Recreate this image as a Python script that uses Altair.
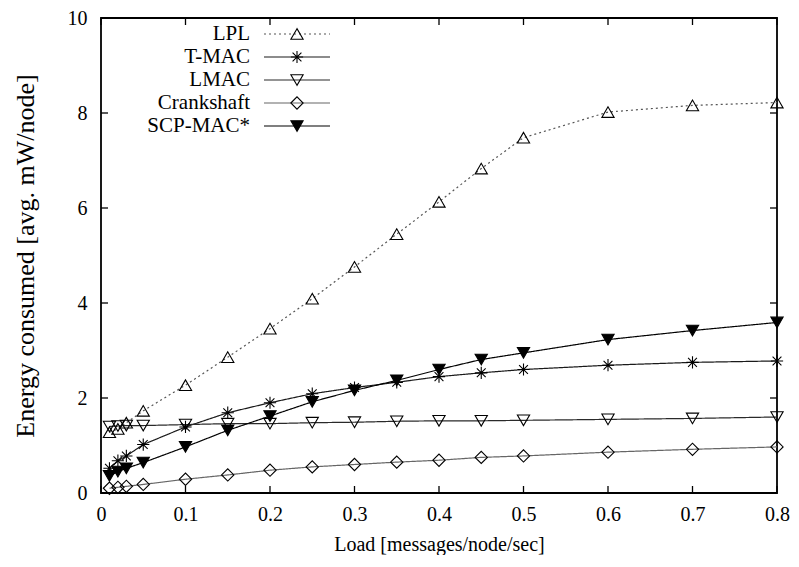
import altair as alt
import pandas as pd

loads = [0.01, 0.02, 0.03, 0.05, 0.1, 0.15, 0.2, 0.25, 0.3, 0.35, 0.4, 0.45, 0.5, 0.6, 0.7, 0.8]
series_names = ["LPL", "T-MAC", "LMAC", "Crankshaft", "SCP-MAC*"]
lpl = [1.28, 1.35, 1.48, 1.73, 2.27, 2.86, 3.46, 4.09, 4.76, 5.45, 6.13, 6.83, 7.48, 8.02, 8.16, 8.22]
tmac = [0.52, 0.68, 0.78, 1.02, 1.39, 1.69, 1.90, 2.09, 2.22, 2.33, 2.45, 2.53, 2.60, 2.69, 2.75, 2.78]
lmac = [1.40, 1.41, 1.42, 1.42, 1.44, 1.46, 1.46, 1.48, 1.49, 1.51, 1.52, 1.52, 1.53, 1.55, 1.57, 1.60]
crank = [0.10, 0.12, 0.14, 0.18, 0.29, 0.38, 0.48, 0.55, 0.60, 0.65, 0.69, 0.75, 0.78, 0.86, 0.92, 0.97]
scp = [0.36, 0.45, 0.52, 0.64, 0.97, 1.32, 1.62, 1.92, 2.16, 2.37, 2.60, 2.81, 2.95, 3.23, 3.42, 3.59]
x_ticks = [0, 0.1, 0.2, 0.3, 0.4, 0.5, 0.6, 0.7, 0.8]
y_ticks = [0, 2, 4, 6, 8, 10]

FONT = "Liberation Serif"
W, H = 676, 475

rows = []
for name, vals in zip(series_names, [lpl, tmac, lmac, crank, scp]):
    for xv, yv in zip(loads, vals):
        rows.append({"series": name, "load": xv, "energy": yv})
df = pd.DataFrame(rows)

ASTER = "M-1,0L1,0M0,-1L0,1M-0.72,-0.72L0.72,0.72M-0.72,0.72L0.72,-0.72"
col_scale = alt.Scale(domain=series_names, range=["#555555", "#1a1a1a", "#2a2a2a", "#666666", "#000000"])
dash_scale = alt.Scale(domain=series_names, range=[[2, 3], [1, 0], [1, 0], [1, 0], [1, 0]])
sw_scale = alt.Scale(domain=series_names, range=[1.2, 1.2, 1.2, 1.2, 2.0])
shape_scale = alt.Scale(domain=series_names, range=["triangle-up", ASTER, "triangle-down", "diamond", "triangle-down"])
fill_scale = alt.Scale(domain=series_names, range=["rgba(0,0,0,0)", "rgba(0,0,0,0)", "rgba(0,0,0,0)", "rgba(0,0,0,0)", "#000000"])
size_scale = alt.Scale(domain=series_names, range=[150, 150, 150, 130, 150])

xs = alt.Scale(domain=[0, 0.8], nice=False, zero=False)
ys = alt.Scale(domain=[0, 10], nice=False)

base = alt.Chart(df)
lines = base.mark_line().encode(
    x=alt.X("load:Q", scale=xs, axis=alt.Axis(
        values=x_ticks, format=".1~f", title="Load [messages/node/sec]",
        ticks=False, tickSize=0, domain=False, grid=False,
        labelFont=FONT, labelFontSize=20, labelColor="black", labelPadding=27,
        labelBaseline="alphabetic", labelFlush=False,
        titleFont=FONT, titleFontSize=20, titleFontWeight="normal", titleColor="black",
        titleBaseline="alphabetic", titleY=57)),
    y=alt.Y("energy:Q", scale=ys, axis=alt.Axis(
        values=y_ticks, format="d", title="Energy consumed [avg. mW/node]",
        ticks=False, tickSize=0, domain=False, grid=False,
        labelFont=FONT, labelFontSize=20, labelColor="black", labelPadding=14,
        labelFlush=False,
        titleFont=FONT, titleFontSize=26, titleFontWeight="normal", titleColor="black",
        titleBaseline="alphabetic", titleX=-68)),
    color=alt.Color("series:N", scale=col_scale, legend=None),
    strokeDash=alt.StrokeDash("series:N", scale=dash_scale, legend=None),
    strokeWidth=alt.StrokeWidth("series:N", scale=sw_scale, legend=None),
    detail="series:N",
)
points = base.mark_point(filled=True, stroke="black", strokeWidth=1.1, opacity=1).encode(
    x=alt.X("load:Q", scale=xs),
    y=alt.Y("energy:Q", scale=ys),
    shape=alt.Shape("series:N", scale=shape_scale, legend=None),
    fill=alt.Fill("series:N", scale=fill_scale, legend=None),
    size=alt.Size("series:N", scale=size_scale, legend=None),
)

# inward ticks on all four sides
xt = pd.DataFrame({"t": x_ticks})
yt = pd.DataFrame({"t": y_ticks})
TL = 7
tick_style = dict(color="black", strokeWidth=1.3)
bt = alt.Chart(xt).mark_rule(**tick_style).encode(x=alt.X("t:Q", scale=xs), y=alt.value(H), y2=alt.value(H - TL))
tt = alt.Chart(xt).mark_rule(**tick_style).encode(x=alt.X("t:Q", scale=xs), y=alt.value(0), y2=alt.value(TL))
lt = alt.Chart(yt).mark_rule(**tick_style).encode(y=alt.Y("t:Q", scale=ys), x=alt.value(0), x2=alt.value(TL))
rt = alt.Chart(yt).mark_rule(**tick_style).encode(y=alt.Y("t:Q", scale=ys), x=alt.value(W - TL), x2=alt.value(W))

# custom gnuplot-style key (label, line sample, marker)
leg = pd.DataFrame({"series": series_names, "ly": [16 + 23 * i for i in range(len(series_names))]})
lb = alt.Chart(leg)
leg_text = lb.mark_text(align="right", baseline="middle", font=FONT, fontSize=21, color="black").encode(
    x=alt.value(149), y=alt.Y("ly:Q", scale=None), text="series:N")
leg_line = lb.mark_rule().encode(
    x=alt.value(163), x2=alt.value(229), y=alt.Y("ly:Q", scale=None),
    color=alt.Color("series:N", scale=col_scale, legend=None),
    strokeDash=alt.StrokeDash("series:N", scale=dash_scale, legend=None),
    strokeWidth=alt.StrokeWidth("series:N", scale=sw_scale, legend=None))
leg_pt = lb.mark_point(filled=True, stroke="black", strokeWidth=1.1, opacity=1).encode(
    x=alt.value(196), y=alt.Y("ly:Q", scale=None),
    shape=alt.Shape("series:N", scale=shape_scale, legend=None),
    fill=alt.Fill("series:N", scale=fill_scale, legend=None),
    size=alt.Size("series:N", scale=size_scale, legend=None))

chart = alt.layer(lines, points, bt, tt, lt, rt, leg_line, leg_pt, leg_text).properties(
    width=W, height=H,
    autosize=alt.AutoSizeParams(type="none"),
    padding={"left": 93, "top": 10, "right": 13, "bottom": 62},
    background="white",
).configure_view(stroke="black", strokeWidth=1.8)

chart.save("out.html", embed_options={"renderer": "svg", "actions": False})
